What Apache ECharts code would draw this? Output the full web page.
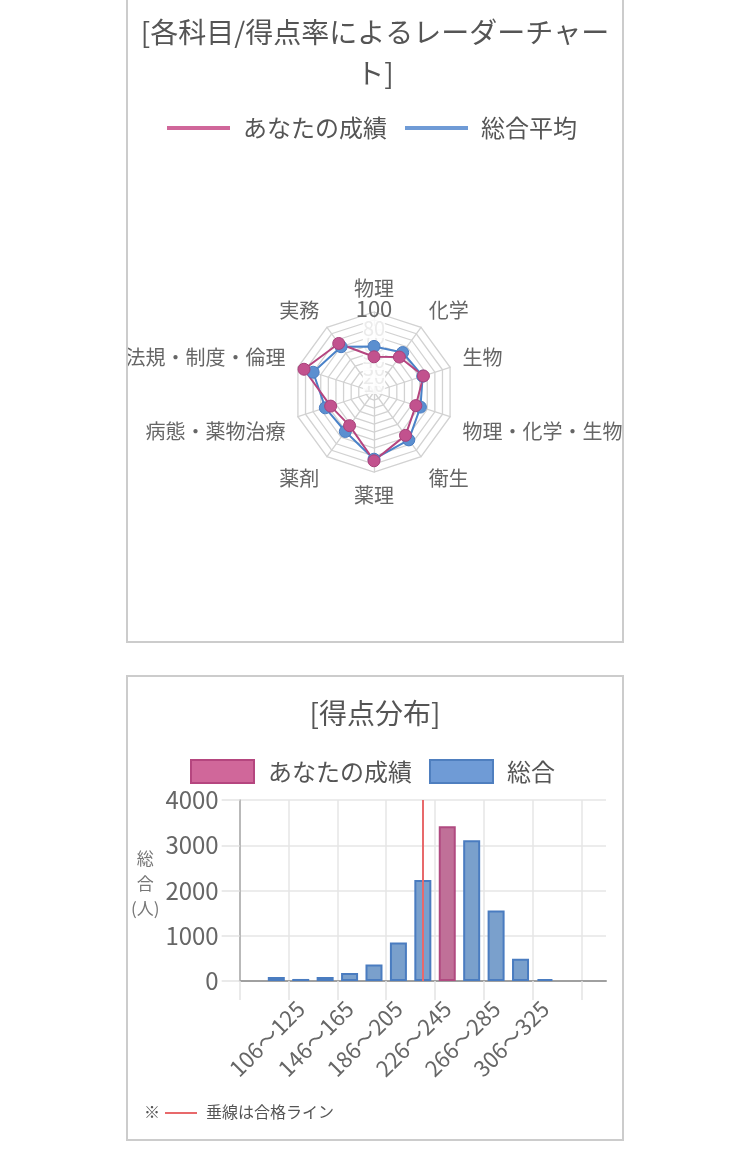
<!DOCTYPE html>
<html lang="ja">
<head>
<meta charset="utf-8">
<title>成績チャート</title>
<script src="https://cdn.jsdelivr.net/npm/echarts@6/dist/echarts.min.js"></script>
<style>
  html, body { margin: 0; padding: 0; background: #fff; }
  body { width: 750px; height: 1154px; position: relative; overflow: hidden; font-family: "Noto Sans CJK JP", sans-serif; }
  .panel { position: absolute; left: 126px; width: 498px; border: 2px solid #ccc; box-sizing: border-box; }
  #radarPanel { top: -10px; height: 653px; }
  #distPanel { top: 675px; height: 466px; }
  .chart { position: absolute; left: 128px; width: 494px; }
  #radarChart { top: 0; height: 641px; }
  #distChart { top: 677px; height: 462px; }
  .note { position: absolute; left: 144px; top: 1100px; font-size: 16px; line-height: 22px; color: #555; white-space: nowrap; }
  .note .mark { display: inline-block; width: 20px; }
  .note .passline { display: inline-block; width: 32px; height: 2px; background: #e8696b; vertical-align: middle; margin: 0 9px 2px 1px; }
</style>
</head>
<body>
<div class="panel" id="radarPanel"></div>
<div class="panel" id="distPanel"></div>
<div class="chart" id="radarChart"></div>
<div class="chart" id="distChart"></div>
<div class="note"><span class="mark">※</span><span class="passline"></span>垂線は合格ライン</div>
<script>
// 科目別得点率（%）、上から時計回り
const subjects = ['物理', '化学', '生物', '物理・化学・生物', '衛生', '薬理', '薬剤', '病態・薬物治療', '法規・制度・倫理', '実務'];
const myRates = [44, 54, 65, 55, 67, 86, 52, 57, 92, 75];
const avgRates = [57, 61, 64, 61, 74, 84, 61, 64, 80, 70];

// 得点分布（人数）
const scoreBins = ['66〜85', '86〜105', '106〜125', '126〜145', '146〜165', '166〜185', '186〜205', '206〜225', '226〜245', '246〜265', '266〜285', '286〜305', '306〜325', '326〜345', '346〜365'];
const totalCounts = [null, 90, 45, 90, 178, 363, 852, 2230, 3422, 3111, 1556, 489, 44, null, null];
const myBin = '226〜245';
const passLineBin = '206〜225';
// 横軸に表示する区間ラベル（1つおき）
const binTickLabels = ['', '', '106〜125', '', '146〜165', '', '186〜205', '', '226〜245', '', '266〜285', '', '306〜325', '', ''];
// 区間の境目（縦グリッド用）
const binEdges = [66, 86, 106, 126, 146, 166, 186, 206, 226, 246, 266, 286, 306, 326, 346, 366];
const countTicks = { min: 0, max: 4000, interval: 1000 };

const FONT = '"Noto Sans CJK JP", sans-serif';

/**
 * レーダーチャート
 */
function renderRadar() {
  const chart = echarts.init(document.getElementById('radarChart'), null, { renderer: 'canvas' });

  // ECharts は反時計回りに並べるので、先頭以外を逆順にする
  const order = subjects.map((_, i) => (subjects.length - i) % subjects.length);
  const n = subjects.length;

  // 上半分のラベルは少し上へ、下半分は少し下へ
  const nameFormatter = (name) => {
    const k = order.indexOf(subjects.indexOf(name));
    const s = Math.sin(Math.PI / 2 + (k * 2 * Math.PI) / n);
    if (s > 0.2 && s < 0.99) return `{up|${name}}`;
    if (s < -0.2 && s > -0.99) return `{down|${name}}`;
    return `{plain|${name}}`;
  };

  const indicator = order.map((idx, k) => {
    const item = { name: subjects[idx], min: 0, max: 100 };
    if (k === 0) {
      item.axisLabel = {
        show: true,
        margin: 0,
        align: 'center',
        verticalAlign: 'middle',
        showMaxLabel: true,
        showMinLabel: true,
        hideOverlap: false,
        formatter: (v) => (v === 100 ? `{top|${v}}` : v === 0 ? '' : `{dim|${v}}`),
        rich: {
          top: { fontSize: 22, color: '#666', fontFamily: FONT, padding: [0, 0, 6, 0] },
          dim: { fontSize: 20, color: '#ebebeb', fontFamily: FONT, backgroundColor: 'rgba(255,255,255,0.85)' }
        }
      };
    }
    return item;
  });

  chart.setOption({
    animation: false,
    textStyle: { fontFamily: FONT },
    title: {
      text: '[各科目/得点率によるレーダーチャー\nト]',
      left: 'center',
      top: 7,
      textStyle: { fontSize: 28, lineHeight: 41, fontWeight: 'normal', color: '#555', fontFamily: FONT }
    },
    legend: {
      left: 34,
      top: 111,
      itemWidth: 63,
      itemHeight: 4,
      itemGap: 18,
      textStyle: { fontSize: 24, color: '#555', fontFamily: FONT, padding: [0, 0, 0, 8] },
      data: [
        { name: 'あなたの成績', icon: 'rect', itemStyle: { color: '#d0679a', borderWidth: 0 } },
        { name: '総合平均', icon: 'rect', itemStyle: { color: '#6f9bd6', borderWidth: 0 } }
      ]
    },
    radar: {
      center: [246, 392],
      radius: 80,
      startAngle: 90,
      splitNumber: 10,
      shape: 'polygon',
      nameGap: 13,
      indicator,
      axisName: {
        formatter: nameFormatter,
        rich: {
          plain: { fontSize: 20, color: '#666', fontFamily: FONT },
          up: { fontSize: 20, color: '#666', fontFamily: FONT, padding: [0, 0, 12, 0] },
          down: { fontSize: 20, color: '#666', fontFamily: FONT, padding: [22, 0, 0, 0] }
        }
      },
      axisLabel: { show: false },
      axisTick: { show: false },
      axisLine: { lineStyle: { color: '#d2d2d2', width: 1.3 } },
      splitLine: { lineStyle: { color: '#d2d2d2', width: 1.3 } },
      splitArea: { show: false }
    },
    series: [{
      type: 'radar',
      symbol: 'circle',
      symbolSize: 12,
      data: [
        {
          name: '総合平均',
          value: order.map((i) => avgRates[i]),
          lineStyle: { color: '#4a82c8', width: 2 },
          itemStyle: { color: '#5b8fd0', borderColor: '#4a7cc0', borderWidth: 1 }
        },
        {
          name: 'あなたの成績',
          value: order.map((i) => myRates[i]),
          lineStyle: { color: '#b5457f', width: 2 },
          itemStyle: { color: '#c2528e', borderColor: '#a8407a', borderWidth: 1 }
        }
      ]
    }]
  });
}

/**
 * 得点分布ヒストグラム
 */
function renderDistribution() {
  const chart = echarts.init(document.getElementById('distChart'), null, { renderer: 'canvas' });

  const mine = scoreBins.map((b, i) => (b === myBin ? totalCounts[i] : '-'));
  const others = scoreBins.map((b, i) => (b === myBin || totalCounts[i] == null ? '-' : totalCounts[i]));

  chart.setOption({
    animation: false,
    textStyle: { fontFamily: FONT },
    title: {
      text: '[得点分布]',
      left: 'center',
      top: 13,
      textStyle: { fontSize: 28, lineHeight: 36, fontWeight: 'normal', color: '#555', fontFamily: FONT }
    },
    legend: {
      left: 57,
      top: 77,
      itemWidth: 63,
      itemHeight: 23,
      itemGap: 17,
      textStyle: { fontSize: 24, color: '#555', fontFamily: FONT, padding: [0, 0, 0, 9] },
      data: [
        { name: 'あなたの成績', icon: 'rect', itemStyle: { color: '#d0679a', borderColor: '#b5467f', borderWidth: 2 } },
        { name: '総合', icon: 'rect', itemStyle: { color: '#6f9bd6', borderColor: '#4f7fbf', borderWidth: 2 } }
      ]
    },
    grid: { left: 110, top: 123, width: 368, height: 181, containLabel: false },
    xAxis: [
      {
        // 棒と区間ラベル
        type: 'category',
        position: 'bottom',
        data: scoreBins,
        axisLine: { show: false },
        axisTick: { show: false },
        splitLine: { show: false },
        axisLabel: {
          interval: 0,
          rotate: 45,
          margin: 24,
          fontSize: 22,
          color: '#666',
          fontFamily: FONT,
          formatter: (v, i) => binTickLabels[i]
        }
      },
      {
        // 区間の境目ごとの縦グリッド
        type: 'category',
        position: 'bottom',
        data: binEdges,
        boundaryGap: false,
        axisLine: { lineStyle: { color: '#a0a0a0', width: 2 } },
        axisTick: { interval: 1, length: 19, lineStyle: { color: '#e3e3e3', width: 1.5 } },
        splitLine: { show: true, interval: 1, lineStyle: { color: '#e6e6e6', width: 1.5 } },
        axisLabel: { show: false }
      }
    ],
    yAxis: {
      type: 'value',
      min: countTicks.min,
      max: countTicks.max,
      interval: countTicks.interval,
      axisLine: { show: true, lineStyle: { color: '#a8a8a8', width: 1.5 } },
      axisTick: { show: true, length: 18, lineStyle: { color: '#e3e3e3', width: 1.5 } },
      axisLabel: { margin: 21, fontSize: 24, color: '#666', fontFamily: FONT, formatter: (v) => String(v) },
      splitLine: { lineStyle: { color: '#e6e6e6', width: 1.5 } },
      name: '総\n合\n(人)\n{s| }',
      nameLocation: 'middle',
      nameRotate: 0,
      nameGap: 93,
      nameTextStyle: {
        fontSize: 17, lineHeight: 25, color: '#777', align: 'center', verticalAlign: 'middle', fontFamily: FONT,
        rich: { s: { fontSize: 10, lineHeight: 13 } }
      }
    },
    series: [
      {
        name: '総合',
        type: 'bar',
        xAxisIndex: 0,
        barWidth: 17,
        barGap: '-100%',
        data: others,
        itemStyle: { color: '#7aa0cc', borderColor: '#4a7cc0', borderWidth: 2 },
        markLine: {
          silent: true,
          symbol: 'none',
          label: { show: false },
          lineStyle: { color: '#e8696b', width: 2, type: 'solid' },
          data: [{ xAxis: passLineBin }]
        }
      },
      {
        name: 'あなたの成績',
        type: 'bar',
        xAxisIndex: 0,
        barWidth: 17,
        barGap: '-100%',
        data: mine,
        itemStyle: { color: '#c07098', borderColor: '#b04a80', borderWidth: 2 }
      }
    ]
  });
}

document.addEventListener('DOMContentLoaded', () => {
  renderRadar();
  renderDistribution();
});
</script>
</body>
</html>
